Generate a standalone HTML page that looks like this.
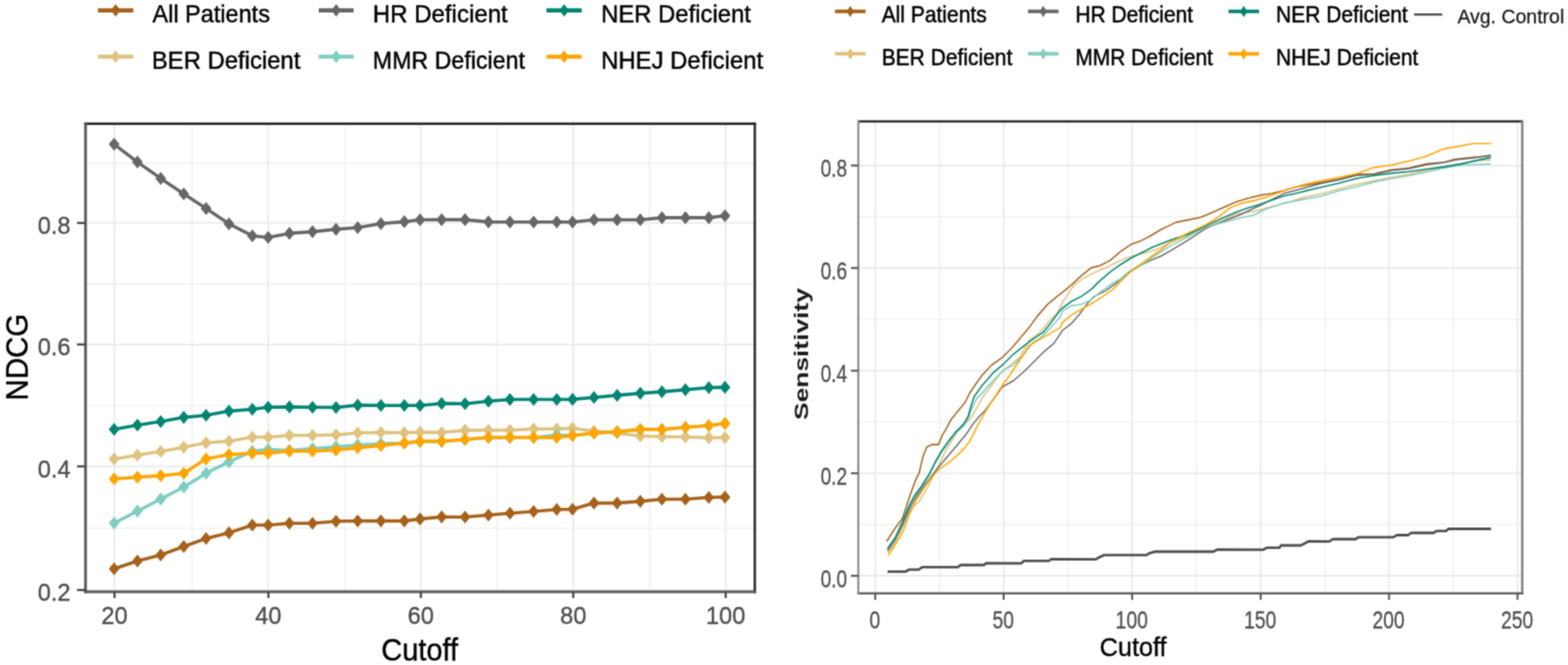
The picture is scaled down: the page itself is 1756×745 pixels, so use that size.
<!DOCTYPE html>
<html><head><meta charset="utf-8"><title>NDCG and Sensitivity by Cutoff</title>
<style>
html,body{margin:0;padding:0;background:#fff;}
body{width:1756px;height:745px;overflow:hidden;}
svg{display:block;}
text{font-family:"Liberation Sans",Arial,sans-serif;}
.tl{font-size:26.5px;fill:#4D4D4D;stroke:#4D4D4D;stroke-width:0.35px;}
.tr{font-size:28.5px;fill:#4D4D4D;stroke:#4D4D4D;stroke-width:0.3px;}
.at{font-size:32.5px;fill:#000;stroke:#000;stroke-width:0.4px;}
.at3{font-size:33px;fill:#000;stroke:#000;stroke-width:0.4px;}
.at2{font-size:28.3px;fill:#000;stroke:#000;stroke-width:0.4px;}
.sens{font-size:29.6px;font-weight:bold;fill:#1a1a1a;}
.lg{font-size:26.5px;fill:#000;stroke:#000;stroke-width:0.45px;}
.lg2{font-size:24px;fill:#000;stroke:#000;stroke-width:0.5px;}
.lg3{font-size:21.8px;fill:#1a1a1a;stroke:#1a1a1a;stroke-width:0.3px;}
</style></head>
<body>
<svg width="1756" height="745" viewBox="0 0 1756 745">
<defs><filter id="sb" x="0" y="0" width="100%" height="100%" filterUnits="userSpaceOnUse" color-interpolation-filters="sRGB"><feConvolveMatrix order="3" kernelMatrix="1 2 1 2 8 2 1 2 1" edgeMode="duplicate" preserveAlpha="true"/></filter></defs>
<g filter="url(#sb)">
<rect x="0" y="0" width="1756" height="745" fill="#FFFFFF"/>
<line x1="95.8" y1="591.8" x2="845.3" y2="591.8" stroke="#F1F1F1" stroke-width="1.6"/>
<line x1="95.8" y1="454.2" x2="845.3" y2="454.2" stroke="#F1F1F1" stroke-width="1.6"/>
<line x1="95.8" y1="317.9" x2="845.3" y2="317.9" stroke="#F1F1F1" stroke-width="1.6"/>
<line x1="95.8" y1="182.9" x2="845.3" y2="182.9" stroke="#F1F1F1" stroke-width="1.6"/>
<line x1="215.2" y1="138.6" x2="215.2" y2="663" stroke="#F1F1F1" stroke-width="1.6"/>
<line x1="386" y1="138.6" x2="386" y2="663" stroke="#F1F1F1" stroke-width="1.6"/>
<line x1="556.6" y1="138.6" x2="556.6" y2="663" stroke="#F1F1F1" stroke-width="1.6"/>
<line x1="727.4" y1="138.6" x2="727.4" y2="663" stroke="#F1F1F1" stroke-width="1.6"/>
<line x1="95.8" y1="661" x2="845.3" y2="661" stroke="#EBEBEB" stroke-width="2"/>
<line x1="95.8" y1="522.5" x2="845.3" y2="522.5" stroke="#EBEBEB" stroke-width="2"/>
<line x1="95.8" y1="385.9" x2="845.3" y2="385.9" stroke="#EBEBEB" stroke-width="2"/>
<line x1="95.8" y1="249.8" x2="845.3" y2="249.8" stroke="#EBEBEB" stroke-width="2"/>
<line x1="128.2" y1="138.6" x2="128.2" y2="663" stroke="#EBEBEB" stroke-width="2"/>
<line x1="300.6" y1="138.6" x2="300.6" y2="663" stroke="#EBEBEB" stroke-width="2"/>
<line x1="471.3" y1="138.6" x2="471.3" y2="663" stroke="#EBEBEB" stroke-width="2"/>
<line x1="642" y1="138.6" x2="642" y2="663" stroke="#EBEBEB" stroke-width="2"/>
<line x1="812.7" y1="138.6" x2="812.7" y2="663" stroke="#EBEBEB" stroke-width="2"/>
<polyline points="127.8,637.2 153.9,628.5 180,621.7 205.8,612.3 230.8,603.2 256.4,596.9 282.6,588.2 300.3,588.3 324.1,586.3 350,586.3 376.3,584 400.6,583.6 426.6,583.6 452.8,583.6 470.4,581.4 494.6,579.1 520.8,579.3 547,577 571.1,575 597.6,573 623.5,570.7 641.2,570.5 665.2,563.6 691.1,563.6 717.1,561.6 741.3,559.2 767.6,559.2 793.8,557.3 811.9,556.9" fill="none" stroke="#A6611A" stroke-width="3.6" stroke-linejoin="round"/>
<polygon points="127.8,629.9 133.8,637.2 127.8,644.5 121.8,637.2" fill="#A6611A"/><polygon points="153.9,621.2 159.9,628.5 153.9,635.8 147.9,628.5" fill="#A6611A"/><polygon points="180,614.4 186,621.7 180,629 174,621.7" fill="#A6611A"/><polygon points="205.8,605 211.8,612.3 205.8,619.6 199.8,612.3" fill="#A6611A"/><polygon points="230.8,595.9 236.8,603.2 230.8,610.5 224.8,603.2" fill="#A6611A"/><polygon points="256.4,589.6 262.4,596.9 256.4,604.2 250.4,596.9" fill="#A6611A"/><polygon points="282.6,580.9 288.6,588.2 282.6,595.5 276.6,588.2" fill="#A6611A"/><polygon points="300.3,581 306.3,588.3 300.3,595.6 294.3,588.3" fill="#A6611A"/><polygon points="324.1,579 330.1,586.3 324.1,593.6 318.1,586.3" fill="#A6611A"/><polygon points="350,579 356,586.3 350,593.6 344,586.3" fill="#A6611A"/><polygon points="376.3,576.7 382.3,584 376.3,591.3 370.3,584" fill="#A6611A"/><polygon points="400.6,576.3 406.6,583.6 400.6,590.9 394.6,583.6" fill="#A6611A"/><polygon points="426.6,576.3 432.6,583.6 426.6,590.9 420.6,583.6" fill="#A6611A"/><polygon points="452.8,576.3 458.8,583.6 452.8,590.9 446.8,583.6" fill="#A6611A"/><polygon points="470.4,574.1 476.4,581.4 470.4,588.7 464.4,581.4" fill="#A6611A"/><polygon points="494.6,571.8 500.6,579.1 494.6,586.4 488.6,579.1" fill="#A6611A"/><polygon points="520.8,572 526.8,579.3 520.8,586.6 514.8,579.3" fill="#A6611A"/><polygon points="547,569.7 553,577 547,584.3 541,577" fill="#A6611A"/><polygon points="571.1,567.7 577.1,575 571.1,582.3 565.1,575" fill="#A6611A"/><polygon points="597.6,565.7 603.6,573 597.6,580.3 591.6,573" fill="#A6611A"/><polygon points="623.5,563.4 629.5,570.7 623.5,578 617.5,570.7" fill="#A6611A"/><polygon points="641.2,563.2 647.2,570.5 641.2,577.8 635.2,570.5" fill="#A6611A"/><polygon points="665.2,556.3 671.2,563.6 665.2,570.9 659.2,563.6" fill="#A6611A"/><polygon points="691.1,556.3 697.1,563.6 691.1,570.9 685.1,563.6" fill="#A6611A"/><polygon points="717.1,554.3 723.1,561.6 717.1,568.9 711.1,561.6" fill="#A6611A"/><polygon points="741.3,551.9 747.3,559.2 741.3,566.5 735.3,559.2" fill="#A6611A"/><polygon points="767.6,551.9 773.6,559.2 767.6,566.5 761.6,559.2" fill="#A6611A"/><polygon points="793.8,550 799.8,557.3 793.8,564.6 787.8,557.3" fill="#A6611A"/><polygon points="811.9,549.6 817.9,556.9 811.9,564.2 805.9,556.9" fill="#A6611A"/>
<polyline points="127.8,514.2 153.9,509.9 180,505.8 205.8,501.1 230.8,496 256.4,494.2 282.6,489.7 300.3,489.8 324.1,487.8 350,487.8 376.3,487.1 400.6,485 426.6,484.5 452.8,484.8 470.4,484.1 494.6,484.5 520.8,482.1 547,482 571.1,482 597.6,480.5 623.5,480.5 641.2,479.8 665.2,483 691.1,485.2 717.1,488.5 741.3,489.2 767.6,489.5 793.8,490.5 811.9,490.3" fill="none" stroke="#DFC27D" stroke-width="3.6" stroke-linejoin="round"/>
<polygon points="127.8,506.9 133.8,514.2 127.8,521.5 121.8,514.2" fill="#DFC27D"/><polygon points="153.9,502.6 159.9,509.9 153.9,517.2 147.9,509.9" fill="#DFC27D"/><polygon points="180,498.5 186,505.8 180,513.1 174,505.8" fill="#DFC27D"/><polygon points="205.8,493.8 211.8,501.1 205.8,508.4 199.8,501.1" fill="#DFC27D"/><polygon points="230.8,488.7 236.8,496 230.8,503.3 224.8,496" fill="#DFC27D"/><polygon points="256.4,486.9 262.4,494.2 256.4,501.5 250.4,494.2" fill="#DFC27D"/><polygon points="282.6,482.4 288.6,489.7 282.6,497 276.6,489.7" fill="#DFC27D"/><polygon points="300.3,482.5 306.3,489.8 300.3,497.1 294.3,489.8" fill="#DFC27D"/><polygon points="324.1,480.5 330.1,487.8 324.1,495.1 318.1,487.8" fill="#DFC27D"/><polygon points="350,480.5 356,487.8 350,495.1 344,487.8" fill="#DFC27D"/><polygon points="376.3,479.8 382.3,487.1 376.3,494.4 370.3,487.1" fill="#DFC27D"/><polygon points="400.6,477.7 406.6,485 400.6,492.3 394.6,485" fill="#DFC27D"/><polygon points="426.6,477.2 432.6,484.5 426.6,491.8 420.6,484.5" fill="#DFC27D"/><polygon points="452.8,477.5 458.8,484.8 452.8,492.1 446.8,484.8" fill="#DFC27D"/><polygon points="470.4,476.8 476.4,484.1 470.4,491.4 464.4,484.1" fill="#DFC27D"/><polygon points="494.6,477.2 500.6,484.5 494.6,491.8 488.6,484.5" fill="#DFC27D"/><polygon points="520.8,474.8 526.8,482.1 520.8,489.4 514.8,482.1" fill="#DFC27D"/><polygon points="547,474.7 553,482 547,489.3 541,482" fill="#DFC27D"/><polygon points="571.1,474.7 577.1,482 571.1,489.3 565.1,482" fill="#DFC27D"/><polygon points="597.6,473.2 603.6,480.5 597.6,487.8 591.6,480.5" fill="#DFC27D"/><polygon points="623.5,473.2 629.5,480.5 623.5,487.8 617.5,480.5" fill="#DFC27D"/><polygon points="641.2,472.5 647.2,479.8 641.2,487.1 635.2,479.8" fill="#DFC27D"/><polygon points="665.2,475.7 671.2,483 665.2,490.3 659.2,483" fill="#DFC27D"/><polygon points="691.1,477.9 697.1,485.2 691.1,492.5 685.1,485.2" fill="#DFC27D"/><polygon points="717.1,481.2 723.1,488.5 717.1,495.8 711.1,488.5" fill="#DFC27D"/><polygon points="741.3,481.9 747.3,489.2 741.3,496.5 735.3,489.2" fill="#DFC27D"/><polygon points="767.6,482.2 773.6,489.5 767.6,496.8 761.6,489.5" fill="#DFC27D"/><polygon points="793.8,483.2 799.8,490.5 793.8,497.8 787.8,490.5" fill="#DFC27D"/><polygon points="811.9,483 817.9,490.3 811.9,497.6 805.9,490.3" fill="#DFC27D"/>
<polyline points="127.8,161.6 153.9,181.5 180,199.9 205.8,217.2 230.8,233.6 256.4,250.8 282.6,264.2 300.3,266 324.1,261.4 350,259.6 376.3,256.9 400.6,255 426.6,250.5 452.8,248.4 470.4,246.2 494.6,246.1 520.8,246.1 547,248.6 571.1,248.8 597.6,248.8 623.5,248.8 641.2,248.8 665.2,246.3 691.1,246.3 717.1,246.3 741.3,243.9 767.6,243.9 793.8,243.9 811.9,241.7" fill="none" stroke="#666666" stroke-width="3.6" stroke-linejoin="round"/>
<polygon points="127.8,154.3 133.8,161.6 127.8,168.9 121.8,161.6" fill="#666666"/><polygon points="153.9,174.2 159.9,181.5 153.9,188.8 147.9,181.5" fill="#666666"/><polygon points="180,192.6 186,199.9 180,207.2 174,199.9" fill="#666666"/><polygon points="205.8,209.9 211.8,217.2 205.8,224.5 199.8,217.2" fill="#666666"/><polygon points="230.8,226.3 236.8,233.6 230.8,240.9 224.8,233.6" fill="#666666"/><polygon points="256.4,243.5 262.4,250.8 256.4,258.1 250.4,250.8" fill="#666666"/><polygon points="282.6,256.9 288.6,264.2 282.6,271.5 276.6,264.2" fill="#666666"/><polygon points="300.3,258.7 306.3,266 300.3,273.3 294.3,266" fill="#666666"/><polygon points="324.1,254.1 330.1,261.4 324.1,268.7 318.1,261.4" fill="#666666"/><polygon points="350,252.3 356,259.6 350,266.9 344,259.6" fill="#666666"/><polygon points="376.3,249.6 382.3,256.9 376.3,264.2 370.3,256.9" fill="#666666"/><polygon points="400.6,247.7 406.6,255 400.6,262.3 394.6,255" fill="#666666"/><polygon points="426.6,243.2 432.6,250.5 426.6,257.8 420.6,250.5" fill="#666666"/><polygon points="452.8,241.1 458.8,248.4 452.8,255.7 446.8,248.4" fill="#666666"/><polygon points="470.4,238.9 476.4,246.2 470.4,253.5 464.4,246.2" fill="#666666"/><polygon points="494.6,238.8 500.6,246.1 494.6,253.4 488.6,246.1" fill="#666666"/><polygon points="520.8,238.8 526.8,246.1 520.8,253.4 514.8,246.1" fill="#666666"/><polygon points="547,241.3 553,248.6 547,255.9 541,248.6" fill="#666666"/><polygon points="571.1,241.5 577.1,248.8 571.1,256.1 565.1,248.8" fill="#666666"/><polygon points="597.6,241.5 603.6,248.8 597.6,256.1 591.6,248.8" fill="#666666"/><polygon points="623.5,241.5 629.5,248.8 623.5,256.1 617.5,248.8" fill="#666666"/><polygon points="641.2,241.5 647.2,248.8 641.2,256.1 635.2,248.8" fill="#666666"/><polygon points="665.2,239 671.2,246.3 665.2,253.6 659.2,246.3" fill="#666666"/><polygon points="691.1,239 697.1,246.3 691.1,253.6 685.1,246.3" fill="#666666"/><polygon points="717.1,239 723.1,246.3 717.1,253.6 711.1,246.3" fill="#666666"/><polygon points="741.3,236.6 747.3,243.9 741.3,251.2 735.3,243.9" fill="#666666"/><polygon points="767.6,236.6 773.6,243.9 767.6,251.2 761.6,243.9" fill="#666666"/><polygon points="793.8,236.6 799.8,243.9 793.8,251.2 787.8,243.9" fill="#666666"/><polygon points="811.9,234.4 817.9,241.7 811.9,249 805.9,241.7" fill="#666666"/>
<polyline points="127.8,586 153.9,572.6 180,559.1 205.8,545.6 230.8,530.2 256.4,517.4 282.6,505.5 300.3,503.6 324.1,504.5 350,502.5 376.3,500.5 400.6,498.5 426.6,497 452.8,496.5 470.4,494.6 494.6,494.6 520.8,492.5 547,490.5 571.1,490.5 597.6,490.3 623.5,487.2 641.2,487.8 665.2,485.3 691.1,483.6 717.1,481.1 741.3,481.1 767.6,478.7 793.8,476.8 811.9,474.4" fill="none" stroke="#80CDC1" stroke-width="3.6" stroke-linejoin="round"/>
<polygon points="127.8,578.7 133.8,586 127.8,593.3 121.8,586" fill="#80CDC1"/><polygon points="153.9,565.3 159.9,572.6 153.9,579.9 147.9,572.6" fill="#80CDC1"/><polygon points="180,551.8 186,559.1 180,566.4 174,559.1" fill="#80CDC1"/><polygon points="205.8,538.3 211.8,545.6 205.8,552.9 199.8,545.6" fill="#80CDC1"/><polygon points="230.8,522.9 236.8,530.2 230.8,537.5 224.8,530.2" fill="#80CDC1"/><polygon points="256.4,510.1 262.4,517.4 256.4,524.7 250.4,517.4" fill="#80CDC1"/><polygon points="282.6,498.2 288.6,505.5 282.6,512.8 276.6,505.5" fill="#80CDC1"/><polygon points="300.3,496.3 306.3,503.6 300.3,510.9 294.3,503.6" fill="#80CDC1"/><polygon points="324.1,497.2 330.1,504.5 324.1,511.8 318.1,504.5" fill="#80CDC1"/><polygon points="350,495.2 356,502.5 350,509.8 344,502.5" fill="#80CDC1"/><polygon points="376.3,493.2 382.3,500.5 376.3,507.8 370.3,500.5" fill="#80CDC1"/><polygon points="400.6,491.2 406.6,498.5 400.6,505.8 394.6,498.5" fill="#80CDC1"/><polygon points="426.6,489.7 432.6,497 426.6,504.3 420.6,497" fill="#80CDC1"/><polygon points="452.8,489.2 458.8,496.5 452.8,503.8 446.8,496.5" fill="#80CDC1"/><polygon points="470.4,487.3 476.4,494.6 470.4,501.9 464.4,494.6" fill="#80CDC1"/><polygon points="494.6,487.3 500.6,494.6 494.6,501.9 488.6,494.6" fill="#80CDC1"/><polygon points="520.8,485.2 526.8,492.5 520.8,499.8 514.8,492.5" fill="#80CDC1"/><polygon points="547,483.2 553,490.5 547,497.8 541,490.5" fill="#80CDC1"/><polygon points="571.1,483.2 577.1,490.5 571.1,497.8 565.1,490.5" fill="#80CDC1"/><polygon points="597.6,483 603.6,490.3 597.6,497.6 591.6,490.3" fill="#80CDC1"/><polygon points="623.5,479.9 629.5,487.2 623.5,494.5 617.5,487.2" fill="#80CDC1"/><polygon points="641.2,480.5 647.2,487.8 641.2,495.1 635.2,487.8" fill="#80CDC1"/><polygon points="665.2,478 671.2,485.3 665.2,492.6 659.2,485.3" fill="#80CDC1"/><polygon points="691.1,476.3 697.1,483.6 691.1,490.9 685.1,483.6" fill="#80CDC1"/><polygon points="717.1,473.8 723.1,481.1 717.1,488.4 711.1,481.1" fill="#80CDC1"/><polygon points="741.3,473.8 747.3,481.1 741.3,488.4 735.3,481.1" fill="#80CDC1"/><polygon points="767.6,471.4 773.6,478.7 767.6,486 761.6,478.7" fill="#80CDC1"/><polygon points="793.8,469.5 799.8,476.8 793.8,484.1 787.8,476.8" fill="#80CDC1"/><polygon points="811.9,467.1 817.9,474.4 811.9,481.7 805.9,474.4" fill="#80CDC1"/>
<polyline points="127.8,481 153.9,476.3 180,472.3 205.8,467.6 230.8,465.2 256.4,460.6 282.6,458.5 300.3,456.2 324.1,455.9 350,456.2 376.3,456.5 400.6,453.9 426.6,454.2 452.8,454.2 470.4,454.2 494.6,452 520.8,452.2 547,449.5 571.1,447.5 597.6,447.5 623.5,447.5 641.2,447.4 665.2,445.2 691.1,442.9 717.1,440.6 741.3,438.9 767.6,436.6 793.8,434.2 811.9,433.9" fill="none" stroke="#018571" stroke-width="3.6" stroke-linejoin="round"/>
<polygon points="127.8,473.7 133.8,481 127.8,488.3 121.8,481" fill="#018571"/><polygon points="153.9,469 159.9,476.3 153.9,483.6 147.9,476.3" fill="#018571"/><polygon points="180,465 186,472.3 180,479.6 174,472.3" fill="#018571"/><polygon points="205.8,460.3 211.8,467.6 205.8,474.9 199.8,467.6" fill="#018571"/><polygon points="230.8,457.9 236.8,465.2 230.8,472.5 224.8,465.2" fill="#018571"/><polygon points="256.4,453.3 262.4,460.6 256.4,467.9 250.4,460.6" fill="#018571"/><polygon points="282.6,451.2 288.6,458.5 282.6,465.8 276.6,458.5" fill="#018571"/><polygon points="300.3,448.9 306.3,456.2 300.3,463.5 294.3,456.2" fill="#018571"/><polygon points="324.1,448.6 330.1,455.9 324.1,463.2 318.1,455.9" fill="#018571"/><polygon points="350,448.9 356,456.2 350,463.5 344,456.2" fill="#018571"/><polygon points="376.3,449.2 382.3,456.5 376.3,463.8 370.3,456.5" fill="#018571"/><polygon points="400.6,446.6 406.6,453.9 400.6,461.2 394.6,453.9" fill="#018571"/><polygon points="426.6,446.9 432.6,454.2 426.6,461.5 420.6,454.2" fill="#018571"/><polygon points="452.8,446.9 458.8,454.2 452.8,461.5 446.8,454.2" fill="#018571"/><polygon points="470.4,446.9 476.4,454.2 470.4,461.5 464.4,454.2" fill="#018571"/><polygon points="494.6,444.7 500.6,452 494.6,459.3 488.6,452" fill="#018571"/><polygon points="520.8,444.9 526.8,452.2 520.8,459.5 514.8,452.2" fill="#018571"/><polygon points="547,442.2 553,449.5 547,456.8 541,449.5" fill="#018571"/><polygon points="571.1,440.2 577.1,447.5 571.1,454.8 565.1,447.5" fill="#018571"/><polygon points="597.6,440.2 603.6,447.5 597.6,454.8 591.6,447.5" fill="#018571"/><polygon points="623.5,440.2 629.5,447.5 623.5,454.8 617.5,447.5" fill="#018571"/><polygon points="641.2,440.1 647.2,447.4 641.2,454.7 635.2,447.4" fill="#018571"/><polygon points="665.2,437.9 671.2,445.2 665.2,452.5 659.2,445.2" fill="#018571"/><polygon points="691.1,435.6 697.1,442.9 691.1,450.2 685.1,442.9" fill="#018571"/><polygon points="717.1,433.3 723.1,440.6 717.1,447.9 711.1,440.6" fill="#018571"/><polygon points="741.3,431.6 747.3,438.9 741.3,446.2 735.3,438.9" fill="#018571"/><polygon points="767.6,429.3 773.6,436.6 767.6,443.9 761.6,436.6" fill="#018571"/><polygon points="793.8,426.9 799.8,434.2 793.8,441.5 787.8,434.2" fill="#018571"/><polygon points="811.9,426.6 817.9,433.9 811.9,441.2 805.9,433.9" fill="#018571"/>
<polyline points="127.8,536.5 153.9,534.6 180,532.9 205.8,530.2 230.8,514.1 256.4,509.3 282.6,507.6 300.3,507.6 324.1,505.5 350,505.5 376.3,504.2 400.6,501.6 426.6,499.2 452.8,496.4 470.4,494.4 494.6,494.4 520.8,492.3 547,490 571.1,490 597.6,490.1 623.5,490.1 641.2,488 665.2,485.3 691.1,483.6 717.1,481.1 741.3,481.1 767.6,478.7 793.8,476.8 811.9,474.4" fill="none" stroke="#FFA500" stroke-width="3.6" stroke-linejoin="round"/>
<polygon points="127.8,529.2 133.8,536.5 127.8,543.8 121.8,536.5" fill="#FFA500"/><polygon points="153.9,527.3 159.9,534.6 153.9,541.9 147.9,534.6" fill="#FFA500"/><polygon points="180,525.6 186,532.9 180,540.2 174,532.9" fill="#FFA500"/><polygon points="205.8,522.9 211.8,530.2 205.8,537.5 199.8,530.2" fill="#FFA500"/><polygon points="230.8,506.8 236.8,514.1 230.8,521.4 224.8,514.1" fill="#FFA500"/><polygon points="256.4,502 262.4,509.3 256.4,516.6 250.4,509.3" fill="#FFA500"/><polygon points="282.6,500.3 288.6,507.6 282.6,514.9 276.6,507.6" fill="#FFA500"/><polygon points="300.3,500.3 306.3,507.6 300.3,514.9 294.3,507.6" fill="#FFA500"/><polygon points="324.1,498.2 330.1,505.5 324.1,512.8 318.1,505.5" fill="#FFA500"/><polygon points="350,498.2 356,505.5 350,512.8 344,505.5" fill="#FFA500"/><polygon points="376.3,496.9 382.3,504.2 376.3,511.5 370.3,504.2" fill="#FFA500"/><polygon points="400.6,494.3 406.6,501.6 400.6,508.9 394.6,501.6" fill="#FFA500"/><polygon points="426.6,491.9 432.6,499.2 426.6,506.5 420.6,499.2" fill="#FFA500"/><polygon points="452.8,489.1 458.8,496.4 452.8,503.7 446.8,496.4" fill="#FFA500"/><polygon points="470.4,487.1 476.4,494.4 470.4,501.7 464.4,494.4" fill="#FFA500"/><polygon points="494.6,487.1 500.6,494.4 494.6,501.7 488.6,494.4" fill="#FFA500"/><polygon points="520.8,485 526.8,492.3 520.8,499.6 514.8,492.3" fill="#FFA500"/><polygon points="547,482.7 553,490 547,497.3 541,490" fill="#FFA500"/><polygon points="571.1,482.7 577.1,490 571.1,497.3 565.1,490" fill="#FFA500"/><polygon points="597.6,482.8 603.6,490.1 597.6,497.4 591.6,490.1" fill="#FFA500"/><polygon points="623.5,482.8 629.5,490.1 623.5,497.4 617.5,490.1" fill="#FFA500"/><polygon points="641.2,480.7 647.2,488 641.2,495.3 635.2,488" fill="#FFA500"/><polygon points="665.2,478 671.2,485.3 665.2,492.6 659.2,485.3" fill="#FFA500"/><polygon points="691.1,476.3 697.1,483.6 691.1,490.9 685.1,483.6" fill="#FFA500"/><polygon points="717.1,473.8 723.1,481.1 717.1,488.4 711.1,481.1" fill="#FFA500"/><polygon points="741.3,473.8 747.3,481.1 741.3,488.4 735.3,481.1" fill="#FFA500"/><polygon points="767.6,471.4 773.6,478.7 767.6,486 761.6,478.7" fill="#FFA500"/><polygon points="793.8,469.5 799.8,476.8 793.8,484.1 787.8,476.8" fill="#FFA500"/><polygon points="811.9,467.1 817.9,474.4 811.9,481.7 805.9,474.4" fill="#FFA500"/>
<line x1="95.8" y1="138.6" x2="845.3" y2="138.6" stroke="#262626" stroke-width="2.6" stroke-linecap="square"/><line x1="845.3" y1="138.6" x2="845.3" y2="663" stroke="#2e2e2e" stroke-width="2.8" stroke-linecap="square"/><line x1="95.8" y1="663" x2="845.3" y2="663" stroke="#5a5a5a" stroke-width="3.0" stroke-linecap="square"/><line x1="95.8" y1="138.6" x2="95.8" y2="663" stroke="#555555" stroke-width="3.0" stroke-linecap="square"/>
<line x1="86.3" y1="661" x2="95.8" y2="661" stroke="#444" stroke-width="2.4"/>
<text transform="translate(79,673) scale(1,1.07)" text-anchor="end" class="tl">0.2</text>
<line x1="86.3" y1="522.5" x2="95.8" y2="522.5" stroke="#444" stroke-width="2.4"/>
<text transform="translate(79,534.5) scale(1,1.07)" text-anchor="end" class="tl">0.4</text>
<line x1="86.3" y1="385.9" x2="95.8" y2="385.9" stroke="#444" stroke-width="2.4"/>
<text transform="translate(79,397.9) scale(1,1.07)" text-anchor="end" class="tl">0.6</text>
<line x1="86.3" y1="249.8" x2="95.8" y2="249.8" stroke="#444" stroke-width="2.4"/>
<text transform="translate(79,261.8) scale(1,1.07)" text-anchor="end" class="tl">0.8</text>
<line x1="128.2" y1="663" x2="128.2" y2="670" stroke="#444" stroke-width="2.4"/>
<text transform="translate(128.2,699.3) scale(1,1.07)" text-anchor="middle" class="tl">20</text>
<line x1="300.6" y1="663" x2="300.6" y2="670" stroke="#444" stroke-width="2.4"/>
<text transform="translate(300.6,699.3) scale(1,1.07)" text-anchor="middle" class="tl">40</text>
<line x1="471.3" y1="663" x2="471.3" y2="670" stroke="#444" stroke-width="2.4"/>
<text transform="translate(471.3,699.3) scale(1,1.07)" text-anchor="middle" class="tl">60</text>
<line x1="642" y1="663" x2="642" y2="670" stroke="#444" stroke-width="2.4"/>
<text transform="translate(642,699.3) scale(1,1.07)" text-anchor="middle" class="tl">80</text>
<line x1="812.7" y1="663" x2="812.7" y2="670" stroke="#444" stroke-width="2.4"/>
<text transform="translate(812.7,699.3) scale(1,1.07)" text-anchor="middle" class="tl">100</text>
<text transform="translate(470,740.3) scale(1,1.07)" text-anchor="middle" class="at">Cutoff</text>
<text transform="translate(31.2,400.1) scale(1.07,1) rotate(-90)" text-anchor="middle" class="at3">NDCG</text>
<line x1="109.7" y1="11.6" x2="149.3" y2="11.6" stroke="#A6611A" stroke-width="4.6"/><polygon points="129.5,4.4 134.7,11.6 129.5,18.8 124.3,11.6" fill="#A6611A"/>
<text transform="translate(170.8,25) scale(1,1.07)" class="lg" textLength="131.5" lengthAdjust="spacingAndGlyphs">All Patients</text>
<line x1="357" y1="11.6" x2="396" y2="11.6" stroke="#666666" stroke-width="4.6"/><polygon points="376.5,4.4 381.7,11.6 376.5,18.8 371.3,11.6" fill="#666666"/>
<text transform="translate(417.6,25) scale(1,1.07)" class="lg" textLength="151" lengthAdjust="spacingAndGlyphs">HR Deficient</text>
<line x1="612" y1="11.6" x2="651.5" y2="11.6" stroke="#018571" stroke-width="4.6"/><polygon points="631.8,4.4 637,11.6 631.8,18.8 626.5,11.6" fill="#018571"/>
<text transform="translate(673.2,25) scale(1,1.07)" class="lg" textLength="167.8" lengthAdjust="spacingAndGlyphs">NER Deficient</text>
<line x1="109.7" y1="63.5" x2="149.3" y2="63.5" stroke="#DFC27D" stroke-width="4.6"/><polygon points="129.5,56.3 134.7,63.5 129.5,70.7 124.3,63.5" fill="#DFC27D"/>
<text transform="translate(170,76.5) scale(1,1.07)" class="lg" textLength="166.4" lengthAdjust="spacingAndGlyphs">BER Deficient</text>
<line x1="357" y1="63.5" x2="396" y2="63.5" stroke="#80CDC1" stroke-width="4.6"/><polygon points="376.5,56.3 381.7,63.5 376.5,70.7 371.3,63.5" fill="#80CDC1"/>
<text transform="translate(417.6,76.5) scale(1,1.07)" class="lg" textLength="170.3" lengthAdjust="spacingAndGlyphs">MMR Deficient</text>
<line x1="612" y1="63.5" x2="651.5" y2="63.5" stroke="#FFA500" stroke-width="4.6"/><polygon points="631.8,56.3 637,63.5 631.8,70.7 626.5,63.5" fill="#FFA500"/>
<text transform="translate(673.2,76.5) scale(1,1.07)" class="lg" textLength="181.4" lengthAdjust="spacingAndGlyphs">NHEJ Deficient</text>
<line x1="961.2" y1="587.6" x2="1704.8" y2="587.6" stroke="#F1F1F1" stroke-width="1.6"/>
<line x1="961.2" y1="472.7" x2="1704.8" y2="472.7" stroke="#F1F1F1" stroke-width="1.6"/>
<line x1="961.2" y1="357.8" x2="1704.8" y2="357.8" stroke="#F1F1F1" stroke-width="1.6"/>
<line x1="961.2" y1="242.9" x2="1704.8" y2="242.9" stroke="#F1F1F1" stroke-width="1.6"/>
<line x1="1052.1" y1="136" x2="1052.1" y2="664.8" stroke="#F1F1F1" stroke-width="1.6"/>
<line x1="1196" y1="136" x2="1196" y2="664.8" stroke="#F1F1F1" stroke-width="1.6"/>
<line x1="1339.8" y1="136" x2="1339.8" y2="664.8" stroke="#F1F1F1" stroke-width="1.6"/>
<line x1="1483.7" y1="136" x2="1483.7" y2="664.8" stroke="#F1F1F1" stroke-width="1.6"/>
<line x1="1627.5" y1="136" x2="1627.5" y2="664.8" stroke="#F1F1F1" stroke-width="1.6"/>
<line x1="961.2" y1="645.1" x2="1704.8" y2="645.1" stroke="#EBEBEB" stroke-width="2"/>
<line x1="961.2" y1="530.2" x2="1704.8" y2="530.2" stroke="#EBEBEB" stroke-width="2"/>
<line x1="961.2" y1="415.3" x2="1704.8" y2="415.3" stroke="#EBEBEB" stroke-width="2"/>
<line x1="961.2" y1="300.3" x2="1704.8" y2="300.3" stroke="#EBEBEB" stroke-width="2"/>
<line x1="961.2" y1="185.4" x2="1704.8" y2="185.4" stroke="#EBEBEB" stroke-width="2"/>
<line x1="980.2" y1="136" x2="980.2" y2="664.8" stroke="#EBEBEB" stroke-width="2"/>
<line x1="1124" y1="136" x2="1124" y2="664.8" stroke="#EBEBEB" stroke-width="2"/>
<line x1="1267.9" y1="136" x2="1267.9" y2="664.8" stroke="#EBEBEB" stroke-width="2"/>
<line x1="1411.8" y1="136" x2="1411.8" y2="664.8" stroke="#EBEBEB" stroke-width="2"/>
<line x1="1555.6" y1="136" x2="1555.6" y2="664.8" stroke="#EBEBEB" stroke-width="2"/>
<line x1="1699.5" y1="136" x2="1699.5" y2="664.8" stroke="#EBEBEB" stroke-width="2"/>
<polyline points="993.1,606.5 1002.4,591.7 1010.5,581 1015.9,564.9 1019.9,552.8 1025.3,538.1 1029.3,530 1033.5,512.1 1037.9,500.7 1044,498.1 1051,498.1 1055.3,487.6 1061.4,477.2 1064.9,470.2 1072.8,460.6 1080.7,451 1085.9,440.5 1092.9,430 1100,420.3 1110.5,409 1122.7,400.3 1133.2,389.8 1143.6,377.6 1152.4,367.1 1161.1,354.9 1173.3,340.9 1183.8,332.2 1190,327.3 1199.7,319.3 1209.3,310.4 1222.2,299.9 1231.9,297.5 1243.1,291.9 1254.4,282.2 1267.3,273.4 1277,270.1 1286.6,265.3 1300,257.2 1316.8,249.1 1330.3,246.4 1343.7,243.7 1357.1,238.3 1370.5,232.3 1384,226.2 1397.4,222.2 1410.8,218.9 1424.2,216.8 1437.7,213.5 1451.1,209.5 1460,207.9 1479.6,204.6 1499.3,200.7 1518.9,195.4 1538.6,194.8 1558.2,190.2 1577.9,188.2 1597.5,183.6 1617.2,181.7 1630.3,178.4 1649.9,176.4 1669.6,174.5" fill="none" stroke="#A6611A" stroke-width="1.6" stroke-linejoin="round"/>
<polyline points="994.5,619 1002.4,607 1011,590 1018,574 1024,566 1029.3,562.2 1038.7,546.1 1048,528 1060,503 1071.9,484.1 1082.4,473.7 1089.4,464.9 1096.4,452.7 1100,445.7 1110.5,431.7 1120.9,417.7 1131.4,409 1141.9,400.3 1152.4,381.1 1162.8,374.1 1173.3,361.9 1183.8,351.4 1190,338.6 1202.9,319.3 1214.2,311.2 1227,304.8 1238.3,299.9 1251.2,293.5 1262.5,288.7 1273.7,285.4 1286.6,282.2 1300,277.4 1310,272 1330,264 1350,255 1370,247 1384,239.7 1404.1,237 1424.2,231.6 1444.4,226.2 1460,221 1479.6,217 1499.3,211.8 1518.9,206.6 1538.6,202.6 1558.2,198.7 1577.9,195.4 1597.5,190.8 1617.2,186.9 1636.8,183 1656.5,179.7 1669.6,179.1" fill="none" stroke="#DFC27D" stroke-width="1.6" stroke-linejoin="round"/>
<polyline points="994,617 1002.4,605 1010.5,589 1017.2,573 1024,560 1032,548 1040,538 1047.5,527.8 1056.2,517.3 1064.9,506.9 1073.7,496.4 1082.4,485.9 1089.4,475.4 1096.4,466.7 1103.4,459.7 1113,446.6 1122.7,433.4 1134.9,426.5 1147.1,416 1159.3,403.8 1169.8,393.3 1180.3,384.6 1190,370 1199.7,362.7 1209.3,351.5 1219,338.6 1225.4,332.1 1238.3,325.7 1249.6,317.6 1262.5,306.4 1275.4,298.3 1288.2,291.9 1300,287 1310.1,281.3 1330.3,269.2 1350.4,255.8 1370.5,247.7 1390.7,239.7 1410.8,230.3 1424.2,223.6 1437.7,216.8 1457.8,211.5 1479.6,205.5 1499.3,201.5 1518.9,196.5 1538.6,195.5 1558.2,191 1577.9,189 1597.5,184.5 1617.2,182 1630.3,179 1649.9,177 1669.6,173.8" fill="none" stroke="#666666" stroke-width="1.5" stroke-linejoin="round"/>
<polyline points="993.7,615.5 1002.4,603.5 1010.5,586 1017.2,570 1023.9,556.5 1032,546 1040.5,532.5 1047.5,518.5 1054.5,506.5 1063.2,494 1070.2,485.5 1078.9,477 1084.1,469 1087.6,459 1093.7,446.6 1100,440.4 1112.2,426.5 1124.4,414.2 1134.9,409 1145.4,398.5 1155.8,384.6 1166.3,377.6 1176.8,367.1 1187.3,354.9 1190,348.2 1199.7,342.6 1210.9,341 1220.6,337 1231.9,327.3 1243.1,319.3 1254.4,312.8 1265.7,303.1 1278.6,296.7 1290,288.5 1310.1,275.9 1330.3,265.2 1350.4,254.4 1370.5,249.1 1390.7,243.7 1404.1,241 1417.5,234.3 1437.7,227.6 1457.8,223.6 1479.6,219.7 1499.3,213.8 1518.9,209.2 1538.6,203.9 1558.2,200 1577.9,196.7 1597.5,192.8 1617.2,188.2 1636.8,185 1656.5,184.3 1669.6,183.6" fill="none" stroke="#80CDC1" stroke-width="1.6" stroke-linejoin="round"/>
<polyline points="993.7,614.6 1002.4,602.5 1010.5,585 1017.2,568.9 1023.9,555.5 1032,544.8 1040.5,531.3 1047.5,517.3 1054.5,505.1 1063.2,492.9 1070.2,484.1 1078.9,475.4 1084.1,466.7 1087.6,454.5 1091.1,444 1100,431.7 1112.2,417.7 1124.4,407.3 1134.9,396.8 1147.1,387.2 1157.6,379.3 1168.1,372.4 1176.8,361.9 1185.5,349.7 1190,345 1199.7,337.8 1210.9,332.1 1222.2,324.1 1231.9,314.4 1243.1,304.8 1254.4,296.7 1267.3,288.7 1280.2,282.2 1290,277.2 1310.1,269.2 1330.3,262.5 1350.4,253.1 1370.5,243.7 1384,237.7 1397.4,233 1410.8,228.9 1424.2,224.2 1437.7,219.5 1451.1,216.8 1460,214.4 1479.6,209.8 1499.3,205.2 1518.9,200 1538.6,196.7 1558.2,194.1 1577.9,192.2 1597.5,189.5 1617.2,186.9 1636.8,183.6 1656.5,179.1 1669.6,176.4" fill="none" stroke="#018571" stroke-width="1.6" stroke-linejoin="round"/>
<polyline points="994.4,622.6 1002.4,610.5 1011.8,594.4 1018.6,575.6 1026.6,559.5 1036,544.8 1044.1,534 1051,526.1 1061.4,519.1 1071.9,510.3 1078.9,503.4 1085.9,494.6 1094.6,477.2 1103.4,461.4 1110.5,450 1122.7,431.7 1134.9,414.2 1145.4,398.5 1152.4,387.2 1162.8,381.1 1175,374.1 1187.3,367.1 1190,361.1 1199.7,353.1 1210.9,346.6 1222.2,340.2 1235.1,332.1 1246.4,324.1 1257.6,312.8 1267.3,303.1 1278.6,295.1 1289.9,287 1300,279.8 1310.1,271.9 1330.3,261.1 1350.4,251.7 1363.8,243.7 1377.2,233 1390.7,227.6 1404.1,224.9 1417.5,220.9 1430.9,216.2 1444.4,211.5 1457.8,207.4 1479.6,202.6 1499.3,198.7 1518.9,194.8 1538.6,187.6 1558.2,185 1577.9,180.4 1597.5,175.1 1617.2,166.6 1630.3,164.6 1649.9,160.7 1670.2,160.7" fill="none" stroke="#FFA500" stroke-width="1.6" stroke-linejoin="round"/>
<polyline points="994,640.4 1013.9,640.4 1017.9,638.2 1028.9,638.2 1032.8,635.4 1072.7,635.4 1075.7,633 1101.6,633 1104.6,631 1143.5,631.2 1146.5,628.4 1174.4,628.4 1177.3,626.4 1227.2,626.6 1231.2,624.2 1236.1,621.9 1284,621.9 1287,619.9 1294,617.8 1359,618 1363.2,615.6 1414.8,615.8 1419,613.6 1432.7,613.6 1434.8,610.9 1457,611 1465.4,606.5 1488.6,606.7 1492.8,603.9 1518.1,604 1521.2,601.8 1560.2,601.9 1564.4,599.5 1577.1,599.5 1580.2,597 1605.5,597 1608.7,594.9 1619.2,594.9 1622.4,592.4 1669.8,592.5" fill="none" stroke="#4D4D4D" stroke-width="2.8" stroke-linejoin="round"/>
<line x1="961.2" y1="136" x2="1704.8" y2="136" stroke="#222222" stroke-width="2.4" stroke-linecap="square"/><line x1="1704.8" y1="136" x2="1704.8" y2="664.8" stroke="#808080" stroke-width="2.6" stroke-linecap="square"/><line x1="961.2" y1="664.8" x2="1704.8" y2="664.8" stroke="#5e5e5e" stroke-width="2.6" stroke-linecap="square"/><line x1="961.2" y1="136" x2="961.2" y2="664.8" stroke="#8f8f8f" stroke-width="2.4" stroke-linecap="square"/>
<line x1="953" y1="645.1" x2="961.2" y2="645.1" stroke="#555" stroke-width="2.2"/>
<text transform="translate(948.8,657.6) scale(0.755,1)" text-anchor="end" class="tr">0.0</text>
<line x1="953" y1="530.2" x2="961.2" y2="530.2" stroke="#555" stroke-width="2.2"/>
<text transform="translate(948.8,542.7) scale(0.755,1)" text-anchor="end" class="tr">0.2</text>
<line x1="953" y1="415.3" x2="961.2" y2="415.3" stroke="#555" stroke-width="2.2"/>
<text transform="translate(948.8,427.8) scale(0.755,1)" text-anchor="end" class="tr">0.4</text>
<line x1="953" y1="300.3" x2="961.2" y2="300.3" stroke="#555" stroke-width="2.2"/>
<text transform="translate(948.8,312.8) scale(0.755,1)" text-anchor="end" class="tr">0.6</text>
<line x1="953" y1="185.4" x2="961.2" y2="185.4" stroke="#555" stroke-width="2.2"/>
<text transform="translate(948.8,197.9) scale(0.755,1)" text-anchor="end" class="tr">0.8</text>
<line x1="980.2" y1="664.8" x2="980.2" y2="672" stroke="#555" stroke-width="2.2"/>
<text transform="translate(979.7,704.3) scale(0.76,1)" text-anchor="middle" class="tr">0</text>
<line x1="1124" y1="664.8" x2="1124" y2="672" stroke="#555" stroke-width="2.2"/>
<text transform="translate(1123.5,704.3) scale(0.76,1)" text-anchor="middle" class="tr">50</text>
<line x1="1267.9" y1="664.8" x2="1267.9" y2="672" stroke="#555" stroke-width="2.2"/>
<text transform="translate(1267.4,704.3) scale(0.76,1)" text-anchor="middle" class="tr">100</text>
<line x1="1411.8" y1="664.8" x2="1411.8" y2="672" stroke="#555" stroke-width="2.2"/>
<text transform="translate(1411.2,704.3) scale(0.76,1)" text-anchor="middle" class="tr">150</text>
<line x1="1555.6" y1="664.8" x2="1555.6" y2="672" stroke="#555" stroke-width="2.2"/>
<text transform="translate(1555.1,704.3) scale(0.76,1)" text-anchor="middle" class="tr">200</text>
<line x1="1699.5" y1="664.8" x2="1699.5" y2="672" stroke="#555" stroke-width="2.2"/>
<text transform="translate(1699,704.3) scale(0.76,1)" text-anchor="middle" class="tr">250</text>
<text transform="translate(1269,734.6) scale(1,1.05)" text-anchor="middle" class="at2">Cutoff</text>
<text transform="translate(904.8,396.6) scale(0.72,1) rotate(-90)" text-anchor="middle" class="sens">Sensitivity</text>
<line x1="935.1" y1="12.8" x2="969.4" y2="12.8" stroke="#A6611A" stroke-width="4.0"/><polygon points="952.2,6.4 956.2,12.8 952.2,19.2 948.2,12.8" fill="#A6611A"/>
<text transform="translate(987.4,25) scale(0.98,1.06)" class="lg2">All Patients</text>
<line x1="1151.2" y1="12.8" x2="1185.5" y2="12.8" stroke="#666666" stroke-width="4.0"/><polygon points="1168.3,6.4 1172.3,12.8 1168.3,19.2 1164.3,12.8" fill="#666666"/>
<text transform="translate(1204.2,25) scale(0.98,1.06)" class="lg2">HR Deficient</text>
<line x1="1375.8" y1="12.8" x2="1410" y2="12.8" stroke="#018571" stroke-width="4.0"/><polygon points="1392.9,6.4 1396.9,12.8 1392.9,19.2 1388.9,12.8" fill="#018571"/>
<text transform="translate(1429,25) scale(0.98,1.06)" class="lg2">NER Deficient</text>
<line x1="935.1" y1="60.3" x2="969.4" y2="60.3" stroke="#DFC27D" stroke-width="4.0"/><polygon points="952.2,53.9 956.2,60.3 952.2,66.7 948.2,60.3" fill="#DFC27D"/>
<text transform="translate(987.4,73) scale(0.98,1.06)" class="lg2">BER Deficient</text>
<line x1="1151.2" y1="60.3" x2="1185.5" y2="60.3" stroke="#80CDC1" stroke-width="4.0"/><polygon points="1168.3,53.9 1172.3,60.3 1168.3,66.7 1164.3,60.3" fill="#80CDC1"/>
<text transform="translate(1204.2,73) scale(0.98,1.06)" class="lg2">MMR Deficient</text>
<line x1="1375.8" y1="60.3" x2="1410" y2="60.3" stroke="#FFA500" stroke-width="4.0"/><polygon points="1392.9,53.9 1396.9,60.3 1392.9,66.7 1388.9,60.3" fill="#FFA500"/>
<text transform="translate(1429,73) scale(0.98,1.06)" class="lg2">NHEJ Deficient</text>
<line x1="1583.6" y1="16.3" x2="1615.2" y2="16.3" stroke="#4D4D4D" stroke-width="2.6"/>
<text transform="translate(1632.2,25.8)" class="lg3">Avg. Control</text>
</g>
</svg>
</body></html>
